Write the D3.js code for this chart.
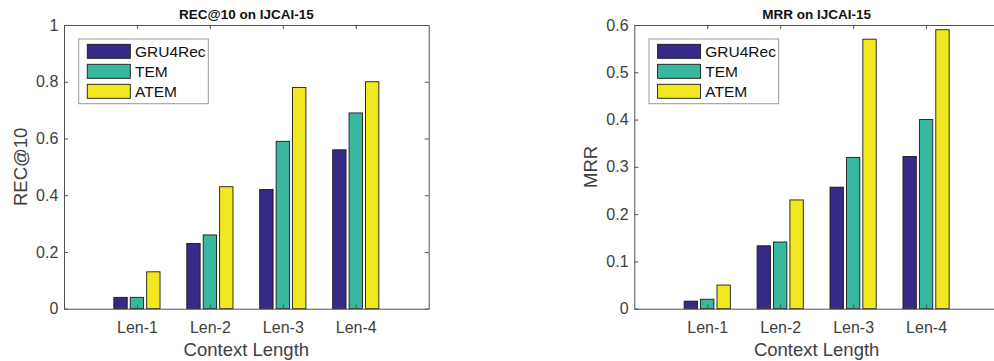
<!DOCTYPE html>
<html>
<head>
<meta charset="utf-8">
<script src="https://cdn.jsdelivr.net/npm/d3@7"></script>
<style>
  body { margin: 0; background: #fff; }
  svg { display: block; font-family: "Liberation Sans", Arial, sans-serif; }
</style>
</head>
<body>
<div class="container"></div>
<script>
const categories = ['Len-1', 'Len-2', 'Len-3', 'Len-4'];
const seriesNames = ['GRU4Rec', 'TEM', 'ATEM'];

const recGRU4Rec = [0.04, 0.23, 0.42, 0.56];
const recTEM = [0.04, 0.26, 0.59, 0.69];
const recATEM = [0.13, 0.43, 0.78, 0.80];

const mrrGRU4Rec = [0.016, 0.133, 0.257, 0.322];
const mrrTEM = [0.020, 0.141, 0.320, 0.400];
const mrrATEM = [0.050, 0.230, 0.570, 0.590];

const recTicks = [0, 0.2, 0.4, 0.6, 0.8, 1];
const mrrTicks = [0, 0.1, 0.2, 0.3, 0.4, 0.5, 0.6];

const colors = ['#352a87', '#38b89f', '#f2e81f'];

const width = 994;
const height = 361;

const svg = d3.select('.container')
    .append('svg')
    .attr('width', width)
    .attr('height', height);

svg.append('rect')
    .attr('width', width)
    .attr('height', height)
    .attr('fill', '#fff');

function drawPanel(opts) {
    const plotW = 364.7;
    const plotH = 283.7;
    const g = svg.append('g')
        .attr('transform', `translate(${opts.left}, 25)`);

    const xScale = d3.scaleLinear().domain([0, 5]).range([0, plotW]);
    const yScale = d3.scaleLinear().domain([0, opts.yMax]).range([plotH, 0]);

    const series = [opts.a, opts.b, opts.c];
    const offset = 0.225;
    const barW = xScale(0.183) - xScale(0);

    // bars
    series.forEach((vals, j) => {
        g.selectAll('.bar' + j)
            .data(vals)
            .enter()
            .append('rect')
            .attr('x', (d, i) => xScale(i + 1 + (j - 1) * offset) - barW / 2)
            .attr('y', d => yScale(d))
            .attr('width', barW)
            .attr('height', d => yScale(0) - yScale(d))
            .attr('fill', colors[j])
            .attr('stroke', '#1a1a1a')
            .attr('stroke-width', 0.9);
    });

    const axisColor = '#505050';

    const xAxis = d3.axisBottom(xScale)
        .tickValues([1, 2, 3, 4])
        .tickFormat(d => categories[d - 1])
        .tickSizeInner(-4)
        .tickSizeOuter(0)
        .tickPadding(12.6);
    const gx = g.append('g')
        .attr('transform', `translate(0, ${plotH})`)
        .call(xAxis);

    const xTop = d3.axisTop(xScale)
        .tickValues([1, 2, 3, 4])
        .tickFormat('')
        .tickSizeInner(-4)
        .tickSizeOuter(0);
    const gxt = g.append('g').call(xTop);

    const yAxis = d3.axisLeft(yScale)
        .tickValues(opts.ticks)
        .tickFormat(d => d3.format('~g')(d))
        .tickSizeInner(-4)
        .tickSizeOuter(0)
        .tickPadding(5.7);
    const gy = g.append('g').call(yAxis);

    const yRight = d3.axisRight(yScale)
        .tickValues(opts.ticks)
        .tickFormat('')
        .tickSizeInner(-4)
        .tickSizeOuter(0);
    const gyr = g.append('g')
        .attr('transform', `translate(${plotW}, 0)`)
        .call(yRight);

    [gx, gxt, gy, gyr].forEach(a => {
        a.select('.domain').attr('stroke', axisColor).attr('stroke-width', 1);
        a.selectAll('.tick line').attr('stroke', axisColor);
        a.selectAll('.tick text')
            .attr('fill', '#404040')
            .style('font-size', '16px')
            .style('font-family', '"Liberation Sans", Arial, sans-serif');
    });

    // title
    g.append('text')
        .attr('x', plotW / 2)
        .attr('y', -6)
        .attr('text-anchor', 'middle')
        .style('font-size', '13.5px')
        .style('font-weight', 'bold')
        .attr('fill', '#111')
        .text(opts.title);

    // axis labels
    g.append('text')
        .attr('x', plotW / 2)
        .attr('y', plotH + 47.3)
        .attr('text-anchor', 'middle')
        .style('font-size', '18.5px')
        .attr('fill', '#404040')
        .text('Context Length');

    g.append('text')
        .attr('transform', `translate(-37.5, ${plotH / 2}) rotate(-90)`)
        .attr('text-anchor', 'middle')
        .style('font-size', '18.5px')
        .attr('fill', '#404040')
        .text(opts.yLabel);

    // legend
    const legend = g.append('g').attr('transform', 'translate(14.7, 14)');
    legend.append('rect')
        .attr('width', 129.6)
        .attr('height', 64.7)
        .attr('fill', '#fff')
        .attr('stroke', '#999')
        .attr('stroke-width', 1);
    seriesNames.forEach((name, j) => {
        legend.append('rect')
            .attr('x', 8.6)
            .attr('y', 5.3 + j * 20)
            .attr('width', 43)
            .attr('height', 14)
            .attr('fill', colors[j])
            .attr('stroke', '#1a1a1a')
            .attr('stroke-width', 0.9);
        legend.append('text')
            .attr('x', 56.3)
            .attr('y', 12.3 + j * 20)
            .attr('dy', '0.36em')
            .style('font-size', '15.5px')
            .attr('fill', '#111')
            .text(name);
    });
}

drawPanel({
    left: 64,
    yMax: 1,
    ticks: recTicks,
    title: 'REC@10 on IJCAI-15',
    yLabel: 'REC@10',
    a: recGRU4Rec, b: recTEM, c: recATEM
});

drawPanel({
    left: 634.3,
    yMax: 0.6,
    ticks: mrrTicks,
    title: 'MRR on IJCAI-15',
    yLabel: 'MRR',
    a: mrrGRU4Rec, b: mrrTEM, c: mrrATEM
});
</script>
</body>
</html>
